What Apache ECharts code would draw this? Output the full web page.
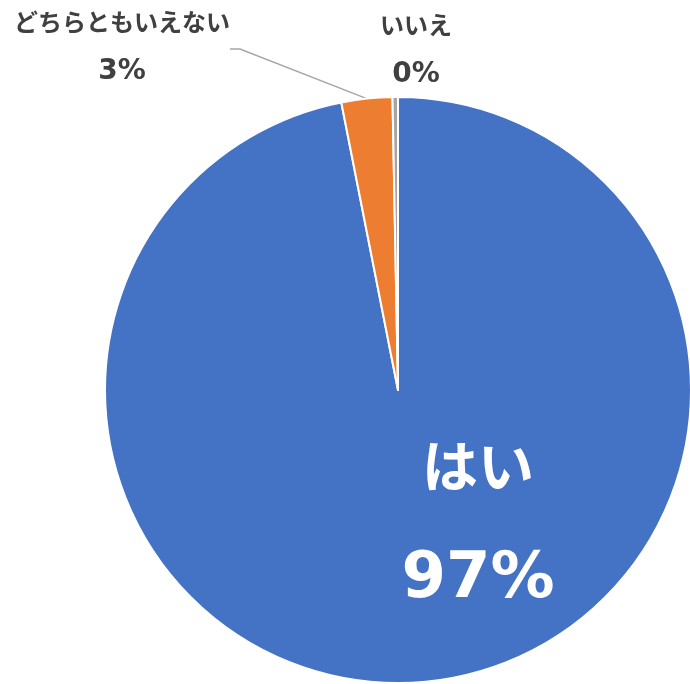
<!DOCTYPE html>
<html>
<head>
<meta charset="utf-8">
<script src="https://cdn.jsdelivr.net/npm/echarts@6/dist/echarts.min.js"></script>
<style>
  html, body { margin: 0; padding: 0; background: #fff; }
  #chart { width: 690px; height: 684px; }
</style>
</head>
<body>
<div id="chart"></div>
<script>
var categories = ['はい', 'どちらともいえない', 'いいえ'];
var values = [96.9, 2.8, 0.3];
var colors = ['#4472C4', '#ED7D31', '#A5A5A5'];

// where each label sits, in pixels
var labelSpots = [
    { x: 478, y: 526 },
    { x: 122, y: 48 },
    { x: 416, y: 51 }
];

var font = '"DejaVu Sans", "Noto Sans CJK JP", sans-serif';

var pieData = categories.map(function (name, i) {
    var item = { name: name, value: values[i], itemStyle: { color: colors[i] } };
    if (i === 0) {
        item.label = {
            position: 'inside',
            rich: {
                n: { fontFamily: font, fontWeight: 'bold', fontSize: 56, lineHeight: 108, color: '#ffffff' },
                p: { fontFamily: font, fontWeight: 'bold', fontSize: 64, lineHeight: 108, color: '#ffffff' }
            }
        };
        item.labelLine = { show: false };
    }
    if (i === 2) {
        item.labelLine = { show: false };
    }
    return item;
});

var myChart = echarts.init(document.getElementById('chart'));
var option = {
    animation: false,
    series: [{
        type: 'pie',
        center: [398, 390],
        radius: 293,
        startAngle: 90,
        clockwise: true,
        percentPrecision: 0,
        avoidLabelOverlap: false,
        itemStyle: {
            borderColor: '#ffffff',
            borderWidth: 2
        },
        label: {
            show: true,
            position: 'outside',
            formatter: function (p) {
                return '{n|' + p.name + '}\n{p|' + p.percent + '%}';
            },
            align: 'center',
            rich: {
                n: { fontFamily: font, fontWeight: 'bold', fontSize: 24, lineHeight: 47, color: '#404040' },
                p: { fontFamily: font, fontWeight: 'bold', fontSize: 28, lineHeight: 47, color: '#404040' }
            }
        },
        labelLine: {
            show: true,
            length: 20,
            length2: 10,
            lineStyle: { color: '#A6A6A6', width: 1.5 }
        },
        labelLayout: function (params) {
            var spot = labelSpots[params.dataIndex];
            return {
                x: spot.x,
                y: spot.y,
                align: 'center',
                verticalAlign: 'middle'
            };
        },
        data: pieData
    }]
};
myChart.setOption(option);
</script>
</body>
</html>
